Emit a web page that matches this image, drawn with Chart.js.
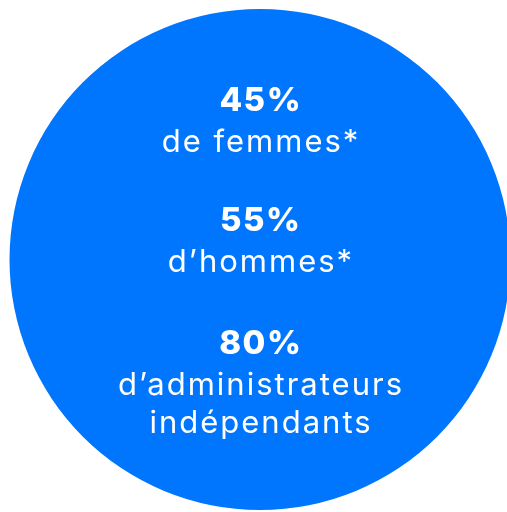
<!DOCTYPE html>
<html>
<head>
<meta charset="utf-8">
<script src="https://cdn.jsdelivr.net/npm/chart.js@4.4.0/dist/chart.umd.min.js"></script>
<style>
  html, body { margin: 0; padding: 0; background: #fff; overflow: hidden; }
  #wrap { width: 520px; height: 512px; }
</style>
</head>
<body>
<div id="wrap"><canvas id="c"></canvas></div>
<script>
// figures shown inside the circle
var percents = [45, 55, 80];
var captions = [
  ['de femmes*'],
  ['d\u2019hommes*'],
  ['d\u2019administrateurs', 'ind\u00e9pendants']
];
// the circle itself is one full slice
var circleValues = [100];

var blue = '#0076ff';

// centre y of each figure line
var blockTops = [101, 221, 344];

var textPlugin = {
  id: 'centerText',
  afterDraw: function(chart) {
    var ctx = chart.ctx;
    var cx = chart.getDatasetMeta(0).data[0].x;
    ctx.save();
    ctx.fillStyle = '#ffffff';
    ctx.textAlign = 'center';
    ctx.textBaseline = 'middle';
    for (var i = 0; i < percents.length; i++) {
      var y = blockTops[i];
      ctx.font = '800 33px Inter, "Noto Sans", sans-serif';
      ctx.letterSpacing = '1.5px';
      ctx.fillText(percents[i] + '%', cx + 0.75, y);
      y += 42;
      ctx.font = '31px Inter, "Noto Sans", sans-serif';
      ctx.letterSpacing = '2px';
      for (var j = 0; j < captions[i].length; j++) {
        ctx.fillText(captions[i][j], cx + 1, y);
        y += 38;
      }
    }
    ctx.restore();
  }
};

new Chart(document.getElementById('c'), {
  type: 'pie',
  data: {
    labels: ['total'],
    datasets: [{
      data: circleValues,
      backgroundColor: [blue],
      borderWidth: 0
    }]
  },
  options: {
    responsive: true,
    maintainAspectRatio: false,
    animation: false,
    layout: { padding: { left: 9.5, right: 9.5, top: 9, bottom: 2 } },
    plugins: {
      legend: { display: false },
      tooltip: { enabled: false }
    }
  },
  plugins: [textPlugin]
});
</script>
</body>
</html>
